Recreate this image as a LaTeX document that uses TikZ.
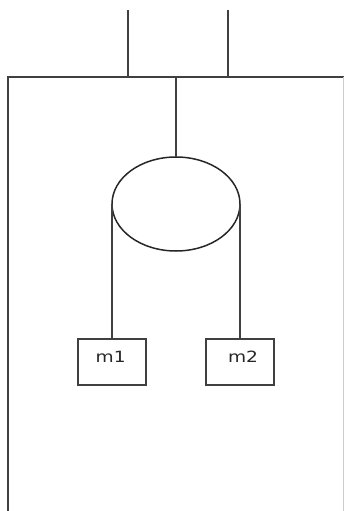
\documentclass[tikz,border=0pt]{standalone}
\usepackage{fontspec}
\setmainfont{DejaVu Sans}
\usetikzlibrary{shapes.geometric}
\tikzset{
  ln/.style={draw=black!75,line width=1.9pt},
  mass/.style={ln,fill=white,minimum width=68pt,minimum height=46.5pt,inner sep=0pt,outer sep=0pt},
  masslabel/.style={inner sep=0pt,text=black!85,font=\fontsize{15.5}{15.5}\selectfont,xscale=1.2},
  pulley/.style={draw=black!85,line width=1.5pt,ellipse,minimum width=128pt,minimum height=94pt,inner sep=0pt,outer sep=0pt}
}
\begin{document}
\begin{tikzpicture}[x=1pt,y=-1pt]
\useasboundingbox (0,0) rectangle (343,511);
\coordinate (tl) at (127.9,10);
\coordinate (tr) at (227.7,10);
\coordinate (bl) at (127.9,77);
\coordinate (br) at (227.7,77);
\coordinate (rod) at (176,77);
\coordinate (cl) at (7.7,77);
\coordinate (cr) at (343,77);
\coordinate (wl) at (7.7,511);
\coordinate (wr) at (342.8,511);
\coordinate (wrt) at (342.8,77);
\node[pulley] (p) at (176,204) {};
\node[mass] (m1) at (112,361.8) {};
\node[mass] (m2) at (240,361.8) {};
\node[masslabel] (l1) at (110.7,357) {m1};
\node[masslabel] (l2) at (243,357) {m2};
\draw[ln] (tl) -- (bl);
\draw[ln] (tr) -- (br);
\draw[ln,line cap=rect] (wl) -- (cl) -- (cr);
\draw[draw=black!20,line width=0.6pt] (wrt) -- (wr);
\draw[ln] (rod) -- (p.north);
\draw[ln] (p.west) -- (m1.north);
\draw[ln] (p.east) -- (m2.north);
\end{tikzpicture}
\end{document}
